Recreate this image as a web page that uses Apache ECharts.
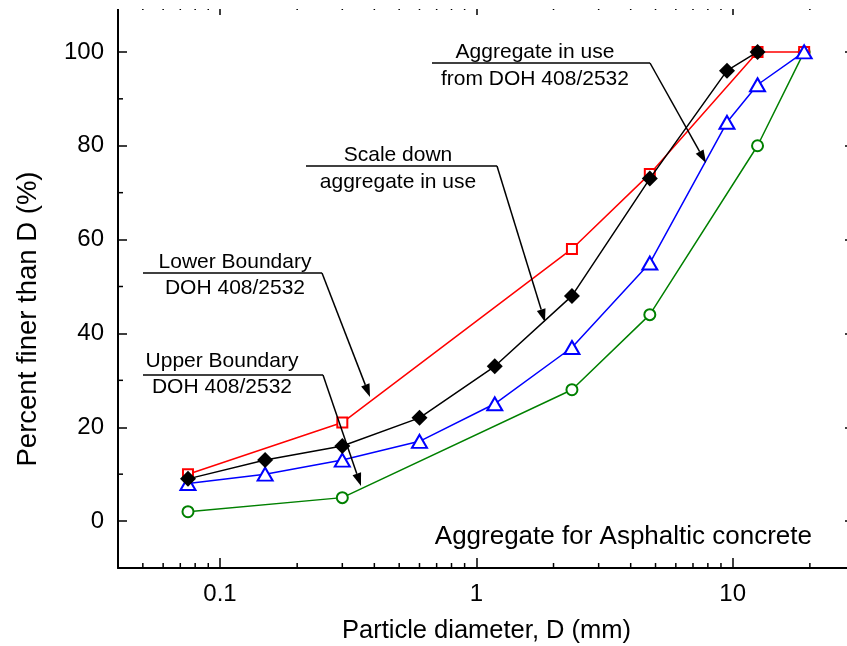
<!DOCTYPE html>
<html><head><meta charset="utf-8">
<script src="https://cdn.jsdelivr.net/npm/echarts@6/dist/echarts.min.js"></script>
<style>html,body{margin:0;padding:0;background:#fff}#c{width:847px;height:646px}</style>
</head><body><div id="c"></div>
<script>
// ---- data ----
const lowerBoundaryX = [0.075, 0.3, 2.36, 4.75, 12.5, 19];
const lowerBoundaryY = [10, 21, 58, 74, 100, 100];
const upperBoundaryX = [0.075, 0.3, 2.36, 4.75, 12.5, 19];
const upperBoundaryY = [2, 5, 28, 44, 80, 100];
const aggInUseX = [0.075, 0.15, 0.3, 0.6, 1.18, 2.36, 4.75, 9.5, 12.5, 19];
const aggInUseY = [8, 10, 13, 17, 25, 37, 55, 85, 93, 100];
const scaleDownX = [0.075, 0.15, 0.3, 0.6, 1.18, 2.36, 4.75, 9.5, 12.5];
const scaleDownY = [9, 13, 16, 22, 33, 48, 73, 96, 100];
const xMinorTicks = [0.05,0.06,0.07,0.08,0.09,0.2,0.3,0.4,0.5,0.6,0.7,0.8,0.9,2,3,4,5,6,7,8,9,20];
const yMinorTicks = [10, 30, 50, 70, 90];
const xMin = 0.04, xMax = 30, yMin = -10, yMax = 110;

const FONT = 'Arial, "Liberation Sans", sans-serif';
const zip = (xs, ys) => xs.map((x, i) => [x, ys[i]]);

const chart = echarts.init(document.getElementById('c'), null, {renderer: 'canvas'});

function arrow(x1, y1, x2, y2) {
  const ang = Math.atan2(y2 - y1, x2 - x1), L = 13, W = 4.5;
  const bx = x2 - L * Math.cos(ang), by = y2 - L * Math.sin(ang);
  const px = -Math.sin(ang) * W, py = Math.cos(ang) * W;
  return [
    {type: 'line', shape: {x1, y1, x2: bx, y2: by}, style: {stroke: '#000', lineWidth: 1.5}, z: 50},
    {type: 'polygon', shape: {points: [[x2, y2], [bx + px, by + py], [bx - px, by - py]]}, style: {fill: '#000'}, z: 50}
  ];
}
function note(lines, cx, ys, ux1, ux2, uy, tipx, tipy) {
  const els = lines.map((t, i) => ({type: 'text', x: cx, y: ys[i], z: 50,
    style: {text: t, align: 'center', verticalAlign: 'middle', font: '21px ' + FONT, fill: '#000'}}));
  els.push({type: 'line', shape: {x1: ux1, y1: uy, x2: ux2, y2: uy}, style: {stroke: '#000', lineWidth: 1.5}, z: 50});
  return els.concat(arrow(ux2, uy, tipx, tipy));
}

const graphics = [
  {type: 'rect', shape: {x: 0, y: 0, width: 847, height: 9}, style: {fill: '#fff'}, z: 100},
  {type: 'text', x: 28, y: 319, rotation: Math.PI / 2, z: 50,
   style: {text: 'Percent finer than D (%)', align: 'center', verticalAlign: 'middle', font: '27.5px ' + FONT, fill: '#000'}},
  {type: 'text', x: 812, y: 537, z: 50,
   style: {text: 'Aggregate for Asphaltic concrete', align: 'right', verticalAlign: 'middle', font: '26px ' + FONT, fill: '#000'}}
].concat(
  note(['Aggregate in use', 'from DOH 408/2532'], 535, [52, 79], 432, 650, 63, 706, 163),
  note(['Scale down', 'aggregate in use'], 398, [155, 182], 306, 497, 166, 545, 322),
  note(['Lower Boundary', 'DOH 408/2532'], 235, [262, 288], 143, 322, 273, 370, 397),
  note(['Upper Boundary', 'DOH 408/2532'], 222, [361, 387], 143, 323, 375, 361, 486)
);

const tickStyle = {color: '#000', width: 1.5};
const option = {
  animation: false,
  backgroundColor: '#fff',
  grid: {left: 118, top: 5, width: 737, height: 563, containLabel: false, outerBoundsMode: 'none'},
  xAxis: [{
    type: 'log', logBase: 10, min: xMin, max: xMax, position: 'bottom',
    name: 'Particle diameter, D (mm)', nameLocation: 'middle', nameGap: 50,
    nameTextStyle: {fontSize: 25.5, fontFamily: FONT, color: '#000'},
    axisLine: {show: true, onZero: false, lineStyle: {color: '#000', width: 2}},
    axisTick: {show: true, inside: true, length: 10, lineStyle: tickStyle},
    axisLabel: {fontSize: 24, fontFamily: FONT, color: '#000', margin: 14, showMinLabel: false, showMaxLabel: false,
      formatter: v => (Math.abs(Math.log10(v) - Math.round(Math.log10(v))) < 1e-6 ? String(+v.toPrecision(3)) : '')},
    splitLine: {show: false}, minorTick: {show: false}
  }, {
    type: 'log', logBase: 10, min: xMin, max: xMax, position: 'top',
    axisLine: {show: false, onZero: false},
    axisTick: {show: true, inside: true, length: 10, lineStyle: tickStyle},
    axisLabel: {show: false}, splitLine: {show: false}
  }],
  yAxis: [{
    type: 'value', min: yMin, max: yMax, position: 'left',
    axisLine: {show: true, onZero: false, lineStyle: {color: '#000', width: 2}},
    axisTick: {show: true, inside: true, length: 9, lineStyle: tickStyle},
    axisLabel: {fontSize: 24, fontFamily: FONT, color: '#000', margin: 14, showMinLabel: false, showMaxLabel: false},
    splitLine: {show: false}
  }, {
    type: 'value', min: yMin, max: yMax, position: 'right',
    axisLine: {show: false, onZero: false},
    axisTick: {show: true, inside: true, length: 10, lineStyle: tickStyle},
    axisLabel: {show: false}, splitLine: {show: false}
  }],
  graphic: graphics,
  series: [
    {type: 'custom', silent: true, clip: false, xAxisIndex: 0, yAxisIndex: 0, z: 1,
     data: xMinorTicks.map(v => [v, 0]),
     renderItem: (p, api) => {
       const v = api.value(0); const b = api.coord([v, yMin]); const t = api.coord([v, yMax]);
       return {type: 'group', children: [
         {type: 'line', shape: {x1: b[0], y1: b[1], x2: b[0], y2: b[1] - 5}, style: {stroke: '#000', lineWidth: 1.5}},
         {type: 'line', shape: {x1: t[0], y1: t[1], x2: t[0], y2: t[1] + 5}, style: {stroke: '#000', lineWidth: 1.5}}]};
     }},
    {type: 'custom', silent: true, clip: false, xAxisIndex: 0, yAxisIndex: 0, z: 1,
     data: yMinorTicks.map(v => [1, v]),
     renderItem: (p, api) => {
       const v = api.value(1); const l = api.coord([xMin, v]); const r = api.coord([xMax, v]);
       return {type: 'group', children: [
         {type: 'line', shape: {x1: l[0], y1: l[1], x2: l[0] + 5, y2: l[1]}, style: {stroke: '#000', lineWidth: 1.5}},
         {type: 'line', shape: {x1: r[0], y1: r[1], x2: r[0] - 5, y2: r[1]}, style: {stroke: '#000', lineWidth: 1.5}}]};
     }},
    {name: 'Upper Boundary', type: 'line', data: zip(upperBoundaryX, upperBoundaryY), symbol: 'emptyCircle', symbolSize: 11,
     lineStyle: {color: '#008000', width: 1.5}, itemStyle: {color: '#008000', borderWidth: 1.5}, z: 2},
    {name: 'Lower Boundary', type: 'line', data: zip(lowerBoundaryX, lowerBoundaryY), symbol: 'emptyRect', symbolSize: 10,
     lineStyle: {color: '#ff0000', width: 1.5}, itemStyle: {color: '#ff0000', borderWidth: 1.5}, z: 3},
    {name: 'Aggregate in use', type: 'line', data: zip(aggInUseX, aggInUseY), symbol: 'emptyTriangle', symbolSize: [15, 13],
     lineStyle: {color: '#0000ff', width: 1.5}, itemStyle: {color: '#0000ff', borderWidth: 1.5}, z: 4},
    {name: 'Scale down', type: 'line', data: zip(scaleDownX, scaleDownY), symbol: 'diamond', symbolSize: 16,
     lineStyle: {color: '#000', width: 1.5}, itemStyle: {color: '#000'}, z: 5}
  ]
};
chart.setOption(option);
</script></body></html>
